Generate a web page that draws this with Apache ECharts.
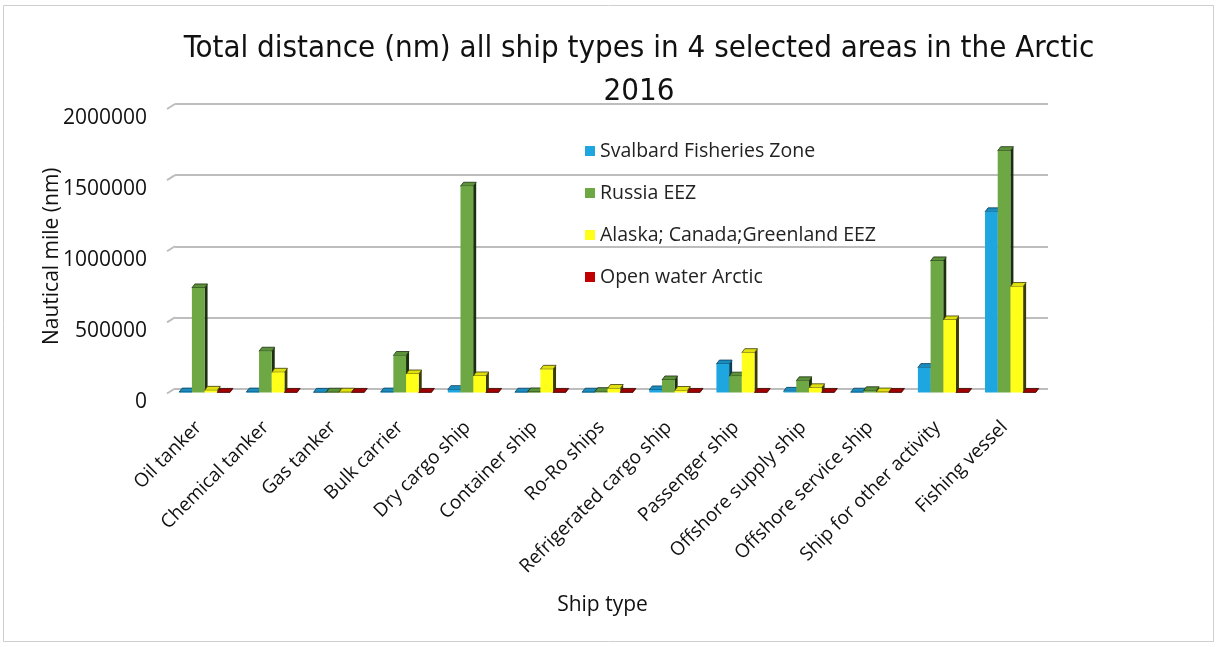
<!DOCTYPE html>
<html>
<head>
<meta charset="utf-8">
<script src="https://cdn.jsdelivr.net/npm/echarts@6/dist/echarts.min.js"></script>
<style>
  html, body { margin: 0; padding: 0; background: #ffffff; }
  #chart { width: 1219px; height: 647px; }
</style>
</head>
<body>
<div id="chart"></div>
<script>
// Ship categories along the horizontal axis
const categories = [
  'Oil tanker', 'Chemical tanker', 'Gas tanker', 'Bulk carrier', 'Dry cargo ship',
  'Container ship', 'Ro-Ro ships', 'Refrigerated cargo ship', 'Passenger ship',
  'Offshore supply ship', 'Offshore service ship', 'Ship for other activity', 'Fishing vessel'
];

// Total distance sailed (nautical miles) per area
const svalbard  = [3000, 3000, 1000, 3000, 20000, 2000, 2000, 18000, 200000, 8000, 2000, 175000, 1270000];
const russia    = [735000, 290000, 2000, 260000, 1450000, 4000, 6000, 88000, 115000, 82000, 12000, 925000, 1700000];
const alaska    = [15000, 142000, 2000, 130000, 116000, 163000, 28000, 14000, 280000, 33000, 3000, 510000, 745000];
const openWater = [500, 500, 500, 500, 500, 500, 500, 500, 500, 500, 500, 500, 500];

const seriesNames = ['Svalbard Fisheries Zone', 'Russia EEZ', 'Alaska; Canada;Greenland EEZ', 'Open water Arctic'];
const seriesData  = [svalbard, russia, alaska, openWater];

// y axis
const yMin = 0, yMax = 2000000, yStep = 500000;
const yTicks = [0, 500000, 1000000, 1500000, 2000000];

const faceColors = ['#1ea6e0', '#6ea845', '#ffff1a', '#c00000'];
const sideColors = ['#0b3f58', '#1c2e10', '#3b3b05', '#3a0000'];
const topColors  = ['#1a8cc0', '#5b9138', '#e0e010', '#a00000'];

// pseudo-3D column: front face, right side face and top face
const DX = 3, DY = 4;
function renderColumn(params, api) {
  const s = params.seriesIndex;
  const ci = api.value(0);
  const v = api.value(1);
  const pTop = api.coord([ci, v]);
  const pBase = api.coord([ci, 0]);
  const band = api.size([1, 0])[0];
  const bw = band * 0.189;
  const xl = pTop[0] + (s - 2) * bw - 4;
  const xr = xl + bw;
  const yt = pTop[1] + DY;
  const yb = pBase[1] + DY;
  return {
    type: 'group',
    children: [
      { type: 'polygon', shape: { points: [[xr, yt], [xr + DX, yt - DY], [xr + DX, yb - DY], [xr, yb]] },
        style: { fill: sideColors[s] } },
      { type: 'polygon', shape: { points: [[xl, yt], [xl + DX, yt - DY], [xr + DX, yt - DY], [xr, yt]] },
        style: { fill: topColors[s], stroke: sideColors[s], lineWidth: 0.8 } },
      { type: 'rect', shape: { x: xl, y: yt, width: bw, height: Math.max(yb - yt, 0) },
        style: { fill: faceColors[s] } }
    ]
  };
}

// short slanted strokes on the side wall at each gridline
function renderWallEdge(params, api) {
  const p = api.coord([0, api.value(1)]);
  const x0 = params.coordSys.x;
  return {
    type: 'line',
    shape: { x1: x0 - 8, y1: p[1] + 5, x2: x0, y2: p[1] },
    style: { stroke: '#bdbdbd', lineWidth: 2 }
  };
}

const series = seriesNames.map((name, s) => ({
  name: name,
  type: 'custom',
  renderItem: renderColumn,
  itemStyle: { color: faceColors[s] },
  encode: { x: 0, y: 1 },
  data: seriesData[s].map((v, i) => [i, v])
}));
series.push({
  name: 'wall',
  type: 'custom',
  silent: true,
  renderItem: renderWallEdge,
  encode: { x: 0, y: 1 },
  data: yTicks.map((v) => [0, v])
});

const baseFont = "'Open Sans', 'Noto Sans', sans-serif";

const chart = echarts.init(document.getElementById('chart'), null, { renderer: 'canvas' });
chart.setOption({
  backgroundColor: '#ffffff',
  animation: false,
  title: {
    text: 'Total distance (nm) all ship types in 4 selected areas in the Arctic\n2016',
    left: 634,
    top: 22,
    textAlign: 'center',
    textStyle: {
      fontFamily: "'Liberation Sans Narrow', 'DejaVu Sans Condensed', sans-serif",
      fontSize: 31,
      fontWeight: 'normal',
      lineHeight: 43,
      color: '#111'
    }
  },
  legend: {
    orient: 'vertical',
    left: 580,
    top: 135,
    icon: 'rect',
    itemWidth: 10,
    itemHeight: 10,
    itemGap: 20,
    textStyle: { fontFamily: baseFont, fontSize: 19.5, lineHeight: 22, color: '#222' },
    data: seriesNames
  },
  graphic: [{
    type: 'rect',
    shape: { x: 3.5, y: 5.5, width: 1210, height: 636 },
    style: { fill: 'none', stroke: '#cfcfcf', lineWidth: 1 },
    silent: true,
    z: -1
  }],
  grid: { left: 175, right: 171, top: 104, bottom: 258.5, containLabel: false },
  xAxis: {
    type: 'category',
    data: categories,
    name: 'Ship type',
    nameLocation: 'middle',
    nameGap: 206,
    nameMoveOverlap: false,
    nameTextStyle: { fontFamily: baseFont, fontSize: 21, color: '#111', padding: [0, 18, 0, 0] },
    axisLine: { show: false },
    axisTick: { show: false },
    axisLabel: {
      interval: 0,
      rotate: 45,
      margin: 26,
      padding: [0, 14, 0, 0],
      fontFamily: baseFont,
      fontSize: 19,
      color: '#111'
    }
  },
  yAxis: {
    type: 'value',
    min: yMin,
    max: yMax,
    interval: yStep,
    name: 'Nautical mile (nm)',
    nameLocation: 'middle',
    nameGap: 112,
    nameMoveOverlap: false,
    nameTextStyle: { fontFamily: baseFont, fontSize: 21, color: '#111', padding: [0, 20, 0, 0] },
    axisLine: { show: false },
    axisTick: { show: false },
    splitLine: { lineStyle: { color: '#bdbdbd', width: 2 } },
    axisLabel: {
      margin: 28,
      fontFamily: baseFont,
      fontSize: 21,
      lineHeight: 28,
      color: '#111',
      verticalAlign: 'top',
      formatter: (v) => String(v)
    }
  },
  series: series
});
</script>
</body>
</html>
